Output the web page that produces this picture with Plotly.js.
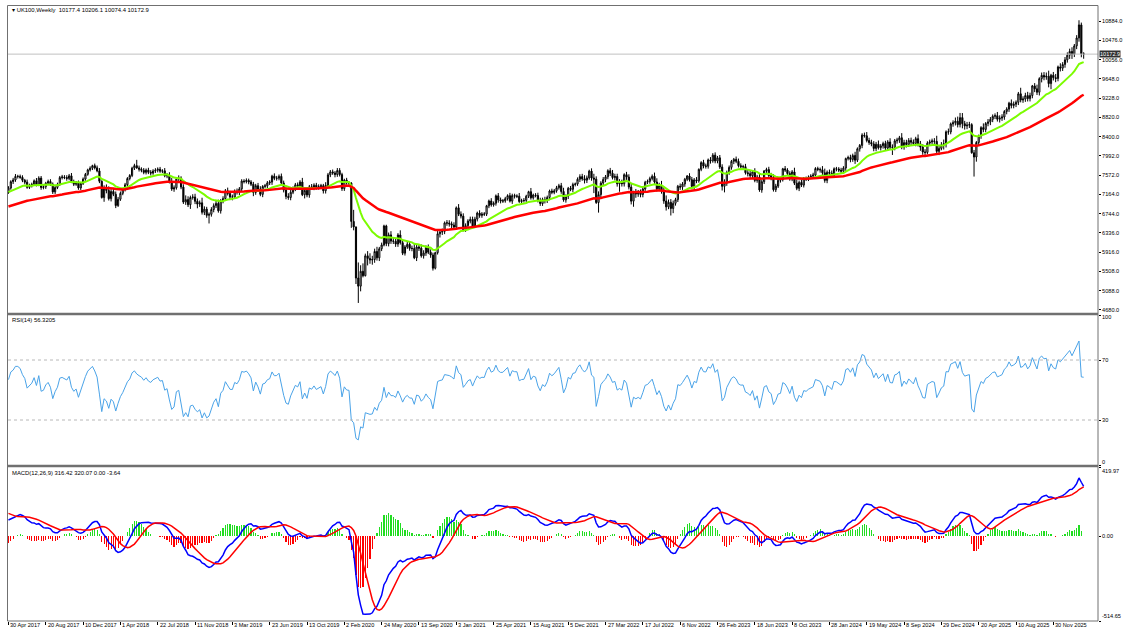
<!DOCTYPE html>
<html><head><meta charset="utf-8">
<script src="https://cdn.plot.ly/plotly-3.0.1.min.js"></script>
<style>html,body{margin:0;padding:0;background:#fff}#chart{width:1124px;height:628px}</style>
</head><body><div id="chart"></div>
<script>
// ---------- DATA ----------
const firstWeek = "2017-04-30";
// weekly closes before the visible window (2015 - Apr 2017, used only to warm up the indicators)
const warmCloses = [6548,6501,6585,6832,6749,6853,6873,6915,6946,6940,6761,7022,6855,6833,6890,7090,6994,7070,6986,7047,6960,7032,6984,6805,6785,6710,6807,6585,6673,6775,6789,6696,6719,6550,6187,6248,6043,6117,6105,6109,6130,6374,6378,6444,6361,6353,6118,6334,6375,6238,5952,6052,
5912,5804,5900,6083,5848,5707,5950,6097,6130,6139,6189,6106,6146,6204,6343,6310,6241,6125,6138,6156,6270,6209,6115,6021,6138,6577,6590,6669,6730,6724,6793,6916,6859,6838,6894,6777,6710,6910,6899,7044,7013,7020,6996,6693,6730,6775,6840,6730,6954,7011,7068,7143,
7210,7337,7198,7184,7188,7258,7299,7243,7374,7343,7425,7336,7323,7349,7327,7115,7204];
// visible weekly closes, 30 Apr 2017 onwards
const closes = [
7297,7435,7471,7548,7547,7527,7464,7424,7313,7350,
7378,7453,7368,7511,7310,7324,7401,7438,7378,7215,
7310,7373,7522,7535,7523,7505,7560,7433,7380,7409,
7300,7394,7490,7592,7688,7724,7778,7731,7666,7443,
7093,7295,7244,7070,7224,7164,6922,7057,7184,7265,
7368,7502,7567,7725,7779,7730,7702,7681,7634,7683,
7637,7618,7662,7679,7701,7659,7667,7559,7577,7432,
7277,7304,7490,7510,7318,6996,7050,6940,7094,7105,
7013,6953,6980,6778,6845,6711,6734,6837,6918,6968,
6809,7020,7071,7237,7178,7107,7104,7228,7208,7279,
7447,7437,7460,7428,7380,7203,7348,7277,7162,7331,
7346,7408,7426,7553,7506,7509,7549,7407,7254,7117,
7095,7207,7282,7367,7345,7426,7155,7247,7150,7324,
7302,7359,7303,7327,7347,7240,7353,7582,7645,7622,
7588,7675,7586,7286,7467,7409,7404,6581,6463,5366,
5191,5510,5416,5843,5787,5752,5763,5936,5800,5994,
6076,6484,6105,6292,6159,6157,6095,6290,6124,5898,
6032,6090,6002,6001,5800,6032,6007,5843,5902,6017,
5920,5860,5577,5910,6316,6351,6368,6550,6547,6529,
6502,6461,6873,6736,6695,6407,6489,6589,6624,6483,
6631,6761,6709,6741,6737,6916,7020,6938,6970,7130,
7044,7018,7023,7069,7134,7017,7136,7123,7122,7008,
7028,7032,7123,7219,7088,7148,7138,7029,6964,7051,
7027,7096,7234,7205,7238,7304,7348,7224,7044,7122,
7292,7270,7373,7385,7486,7543,7494,7466,7516,7661,
7514,7489,6987,7156,7405,7483,7538,7670,7616,7522,
7545,7388,7418,7390,7585,7533,7318,7016,7208,7169,
7196,7159,7276,7423,7440,7501,7550,7427,7281,7351,
7237,7019,6894,6991,6858,6970,7048,7335,7318,7385,
7486,7556,7476,7333,7473,7452,7699,7844,7771,7765,
7902,7882,8004,7879,7947,7748,7335,7405,7632,7742,
7871,7914,7871,7778,7754,7757,7627,7607,7562,7643,
7462,7532,7257,7434,7664,7694,7564,7525,7262,7338,
7465,7478,7711,7684,7608,7495,7644,7402,7292,7418,
7360,7504,7488,7529,7554,7576,7716,7698,7689,7625,
7462,7635,7615,7573,7712,7706,7682,7660,7727,7931,
7953,7911,7996,7896,8140,8213,8434,8420,8318,8275,
8245,8147,8238,8164,8204,8253,8155,8286,8175,8168,
8311,8327,8377,8181,8274,8229,8320,8281,8254,8358,
8249,8177,8072,8063,8262,8287,8309,8300,8085,8149,
8224,8249,8505,8502,8674,8701,8732,8659,8810,8680,
8632,8647,8659,8055,7964,8276,8415,8596,8555,8684,
8718,8772,8838,8851,8775,8799,8823,8941,8992,9120,
9069,9096,9139,9321,9187,9208,9283,9217,9285,9491,
9427,9355,9646,9717,9682,9698,9540,9720,9667,9650,
9897,9871,9951,10050,10150,10230,10170,10350,10520,10800,
10180,10172.9];
// upper / lower shadow length of each weekly candle (price points)
const wickUp = [
40,30,45,50,35,40,45,30,55,40, 35,30,60,40,45,35,30,40,50,40,
30,40,35,45,40,50,40,60,45,40, 50,30,35,30,25,40,20,45,50,60,
20,60,80,90,50,70,60,50,40,35, 40,30,30,30,40,124,50,40,45,35,
50,45,40,45,40,50,35,60,40,60, 80,50,40,60,40,60,90,70,40,60,
70,60,50,110,60,50,40,50,50,60, 80,40,50,40,70,60,50,40,60,40,
40,40,45,40,40,50,40,60,60,30, 40,40,40,30,60,50,40,60,50,60,
70,50,50,40,50,40,90,50,70,40, 60,40,50,50,40,40,70,40,40,50,
40,52,50,40,30,50,30,20,249,7, 334,130,170,47,100,110,80,60,100,40,
50,26,26,50,80,70,60,40,100,60, 40,60,70,60,100,60,60,80,60,50,
70,60,50,20,84,60,60,30,60,60, 50,60,30,80,60,60,50,40,60,60,
50,30,60,40,40,20,30,60,40,30, 60,50,40,40,30,60,40,40,40,70,
40,50,30,20,80,30,40,60,60,40, 60,40,30,50,40,40,40,60,80,40,
30,50,40,30,40,50,60,80,50,30, 60,90,60,70,40,50,40,30,60,70,
60,60,70,60,30,60,60,90,30,70, 60,70,50,30,40,40,40,80,80,60,
100,80,120,60,70,60,40,30,60,40, 30,20,60,60,40,60,20,30,60,50,
30,60,43,60,40,60,60,80,40,40, 30,30,60,60,50,40,60,60,60,40,
80,50,90,40,20,40,60,60,70,50, 40,50,20,60,40,50,40,90,80,40,
60,30,40,40,40,50,30,40,40,80, 90,40,60,60,30,40,40,50,40,20,
40,60,40,80,30,30,40,54,80,60, 60,60,50,80,40,40,60,40,80,60,
40,50,40,100,60,60,50,60,60,40, 90,60,60,60,40,50,50,60,120,60,
60,90,30,70,30,50,80,100,100,98, 60,70,60,31,60,30,30,30,90,30,
60,50,40,50,80,60,60,30,40,30, 80,60,40,40,130,60,60,80,60,20,
60,90,30,60,70,80,120,30,70,80, 30,80,50,60,60,60,90,40,60,100,
50,33];
const wickDown = [
30,35,50,40,45,30,40,45,30,35, 40,30,35,30,50,40,45,30,35,45,
45,35,30,40,35,50,40,30,40,35, 40,45,30,35,30,35,40,35,30,40,
20,90,60,40,60,40,55,30,35,40, 40,35,40,35,40,20,50,45,40,45,
40,50,35,40,45,35,40,30,50,35, 40,60,40,50,45,40,60,50,90,45,
60,90,60,50,60,51,174,50,60,50, 40,60,50,50,40,60,70,40,50,60,
50,40,40,50,40,80,50,50,40,60, 40,50,45,60,40,50,45,30,50,60,
50,60,40,50,60,40,30,80,50,60, 40,50,40,40,50,60,60,40,50,40,
60,50,40,50,50,40,40,138,73,129, 360,111,36,16,150,80,100,70,60,70,
50,30,55,60,60,60,60,60,40,40, 50,40,50,60,30,70,60,40,60,60,
40,60,51,27,40,80,60,60,60,60, 100,50,60,40,50,40,50,60,50,40,
40,50,50,50,40,40,50,40,40,50, 60,50,40,40,40,30,60,50,40,30,
50,40,40,40,40,40,40,40,50,50, 60,50,60,40,40,40,40,50,40,60,
60,40,60,40,40,60,40,70,60,40, 60,300,30,217,60,50,60,50,60,40,
60,60,170,60,60,60,50,70,120,80, 60,60,60,40,40,50,40,40,60,50,
60,60,80,50,150,100,50,50,60,60, 60,40,40,60,60,50,40,40,50,50,
50,60,40,50,50,40,90,130,60,50, 50,60,40,40,50,60,40,60,50,60,
40,50,40,60,50,40,50,60,40,50, 40,50,40,40,40,40,50,40,40,60,
40,50,40,40,40,50,60,40,60,50, 50,60,50,60,60,50,40,50,40,60,
40,60,50,80,40,60,60,40,40,50, 50,60,60,40,60,60,40,60,60,160,
60,60,60,50,60,60,50,60,50,60, 60,80,60,60,40,60,50,60,40,80,
40,100,80,60,50,60,60,60,60,100, 80,70,60,20,420,100,60,60,60,60,
60,70,60,60,50,70,60,60,60,60, 60,60,60,60,50,60,60,60,60,60,
70,60,70,80,70,60,80,120,60,80, 60,70,60,70,60,80,100,60,70,80,
75,99];
const xTickLabels = ["30 Apr 2017","20 Aug 2017","10 Dec 2017","1 Apr 2018","22 Jul 2018","11 Nov 2018","3 Mar 2019","23 Jun 2019","13 Oct 2019","2 Feb 2020","24 May 2020","13 Sep 2020","3 Jan 2021","25 Apr 2021","15 Aug 2021","5 Dec 2021","27 Mar 2022","17 Jul 2022","6 Nov 2022","26 Feb 2023","18 Jun 2023","8 Oct 2023","28 Jan 2024","19 May 2024","8 Sep 2024","29 Dec 2024","20 Apr 2025","10 Aug 2025","30 Nov 2025"];
const priceTicks = [4680,5088,5508,5916,6336,6744,7164,7572,7992,8400,8820,9228,9648,10056,10476,10884];
const rsiTicks = [0,30,70,100];
const rsiLevels = [30,70];
const macdTicks = [-514.65,0,419.97];
const maPeriods = [20,65];
const headerText = "\u25BE UK100,Weekly  10177.4 10206.1 10074.4 10172.9";
const rsiText = "RSI(14) 56.3205";
const macdText = "MACD(12,26,9) 316.42 320.07 0.00 -3.64";

// ---------- DERIVED ----------
const WEEK = 7*86400000;
const t0 = Date.parse(firstWeek);
const iso = t => new Date(t).toISOString().slice(0,16).replace("T"," ");
const dates = closes.map((_,i)=>iso(t0+i*WEEK));
const opens = closes.map((c,i)=> i===0 ? warmCloses[warmCloses.length-1] : closes[i-1]);
const highs = closes.map((c,i)=> Math.max(opens[i],c)+wickUp[i]);
const lows  = closes.map((c,i)=> Math.min(opens[i],c)-wickDown[i]);
const MON = {Jan:"01",Feb:"02",Mar:"03",Apr:"04",May:"05",Jun:"06",Jul:"07",Aug:"08",Sep:"09",Oct:"10",Nov:"11",Dec:"12"};
const tickDates = xTickLabels.map(s=>{const p=s.split(" ");return p[2]+"-"+MON[p[1]]+"-"+p[0].padStart(2,"0");});

const all = warmCloses.concat(closes);
const off = warmCloses.length;
function ema(a,p){const k=2/(p+1);const o=[];let e=a[0];for(let i=0;i<a.length;i++){e=i===0?a[0]:a[i]*k+e*(1-k);o.push(e);}return o;}
function sma(a,p){const o=[];for(let i=0;i<a.length;i++){if(i<p-1){o.push(a[i]);continue;}let s=0;for(let j=i-p+1;j<=i;j++)s+=a[j];o.push(s/p);}return o;}
function rsi(a,p){const o=new Array(a.length).fill(50);let g=0,l=0;for(let i=1;i<=p;i++){const d=a[i]-a[i-1];if(d>0)g+=d;else l-=d;}g/=p;l/=p;o[p]=100-100/(1+g/l);
 for(let i=p+1;i<a.length;i++){const d=a[i]-a[i-1];g=(g*(p-1)+Math.max(d,0))/p;l=(l*(p-1)+Math.max(-d,0))/p;o[i]=l===0?100:100-100/(1+g/l);}return o;}
const maFast = ema(all,maPeriods[0]).slice(off);
const maSlow = ema(all,maPeriods[1]).slice(off);
const rsiV = rsi(all,14).slice(off);
const e12 = ema(all,12), e26 = ema(all,26);
const macdAll = e12.map((v,i)=>v-e26[i]);
const sigAll = sma(macdAll,9);
const macd = macdAll.slice(off), sig = sigAll.slice(off);
const hist = macd.map((v,i)=>v-sig[i]);

// ---------- LAYOUT (pixels) ----------
const W=1124,H=628,L=8,R=26,T=6,B=7;
const fx = px => (px-L)/(W-L-R);
const fy = py => (H-B-py)/(H-T-B);
const xr = [iso(t0-0.2*WEEK), iso(t0+467.15*WEEK)];
const FONT = "Liberation Sans, Arial, sans-serif";
const tf = {family:FONT,size:5.9,color:"#000"};
const af = {family:FONT,size:5.6,color:"#000"};

const traces = [
 {type:"candlestick",x:dates,open:opens,high:highs,low:lows,close:closes,xaxis:"x",yaxis:"y",
  increasing:{line:{color:"#000",width:1},fillcolor:"#fff"},
  decreasing:{line:{color:"#000",width:1},fillcolor:"#000"},whiskerwidth:0,hoverinfo:"skip"},
 {type:"scatter",mode:"lines",x:dates,y:maFast,xaxis:"x",yaxis:"y",line:{color:"#7CFC00",width:2},hoverinfo:"skip"},
 {type:"scatter",mode:"lines",x:dates,y:maSlow,xaxis:"x",yaxis:"y",line:{color:"#FF0000",width:2.5},hoverinfo:"skip"},
 {type:"scatter",mode:"lines",x:dates,y:rsiV,xaxis:"x",yaxis:"y2",line:{color:"#4AA3E8",width:1},hoverinfo:"skip"},
 {type:"bar",x:dates,y:hist,xaxis:"x",yaxis:"y3",width:WEEK*0.5,marker:{color:hist.map(v=>v>=0?"#22DD22":"#FF0000"),line:{width:0}},hoverinfo:"skip"},
 {type:"scatter",mode:"lines",x:dates,y:macd,xaxis:"x",yaxis:"y3",line:{color:"#0000FF",width:1.5},hoverinfo:"skip"},
 {type:"scatter",mode:"lines",x:dates,y:sig,xaxis:"x",yaxis:"y3",line:{color:"#FF0000",width:1.5},hoverinfo:"skip"}
];

const yCommon = {side:"right",showgrid:false,zeroline:false,ticks:"outside",ticklen:2,tickcolor:"#000",tickfont:af,fixedrange:true,showline:false};
const edgeLabel = (text,yref,yv,shift)=>({xref:"paper",yref:yref,x:1,y:yv,xanchor:"left",yanchor:"middle",xshift:3,yshift:shift,text:text,showarrow:false,font:af,borderpad:0});
const layout = {
 width:W,height:H,margin:{l:L,r:R,t:T,b:B},paper_bgcolor:"#fff",plot_bgcolor:"#fff",showlegend:false,bargap:0,
 xaxis:{type:"date",range:xr,anchor:"y3",domain:[0,1],tickvals:tickDates,showticklabels:false,ticks:"outside",ticklen:3,tickcolor:"#000",
   showgrid:false,zeroline:false,showline:false,rangeslider:{visible:false},fixedrange:true},
 yaxis:Object.assign({},yCommon,{domain:[fy(313),fy(6)],range:[4615,11206],tickvals:priceTicks,ticktext:priceTicks.map(v=>v.toFixed(1))}),
 yaxis2:Object.assign({},yCommon,{domain:[fy(465),fy(315)],range:[0,100],tickvals:rsiTicks,ticktext:rsiTicks.map(v=>(v===0||v===100)?"":String(v))}),
 yaxis3:Object.assign({},yCommon,{domain:[fy(621),fy(467)],range:[macdTicks[0],macdTicks[2]],tickvals:macdTicks,ticktext:macdTicks.map(v=>v===0?"0.00":"")}),
 shapes:[
  {type:"line",xref:"paper",yref:"y",x0:0,x1:1,y0:closes[closes.length-1],y1:closes[closes.length-1],line:{color:"#C0C0C0",width:1}},
  ...rsiLevels.map(v=>({type:"line",xref:"paper",yref:"y2",x0:0,x1:1,y0:v,y1:v,line:{color:"#B8B8B8",width:1,dash:"dot"}})),
  {type:"rect",xref:"paper",yref:"paper",x0:fx(7.5),x1:fx(1098),y0:fy(621),y1:fy(5.5),line:{color:"#707070",width:1}},
  {type:"line",xref:"paper",yref:"paper",x0:fx(7.5),x1:fx(1098),y0:fy(314),y1:fy(314),line:{color:"#707070",width:2.5}},
  {type:"line",xref:"paper",yref:"paper",x0:fx(7.5),x1:fx(1098),y0:fy(466),y1:fy(466),line:{color:"#707070",width:2.5}}
 ],
 annotations:[
  {xref:"paper",yref:"paper",x:fx(10),y:fy(5),xanchor:"left",yanchor:"top",text:headerText,showarrow:false,font:tf},
  {xref:"paper",yref:"paper",x:fx(10),y:fy(315.5),xanchor:"left",yanchor:"top",text:rsiText,showarrow:false,font:tf},
  {xref:"paper",yref:"paper",x:fx(10),y:fy(467.5),xanchor:"left",yanchor:"top",text:macdText,showarrow:false,font:tf},
  {xref:"paper",yref:"y",x:1,y:closes[closes.length-1],xanchor:"left",yanchor:"middle",xshift:1,text:String(closes[closes.length-1]),showarrow:false,
   font:{family:FONT,size:5.6,color:"#fff"},bgcolor:"#303030",borderpad:0},
  edgeLabel(String(rsiTicks[3]),"y2",rsiTicks[3],-2),
  edgeLabel(String(rsiTicks[0]),"y2",rsiTicks[0],3),
  edgeLabel(macdTicks[2].toFixed(2),"y3",macdTicks[2],-4),
  edgeLabel(macdTicks[0].toFixed(2),"y3",macdTicks[0],5),
  ...xTickLabels.map((s,i)=>({xref:"x",yref:"paper",x:tickDates[i],y:fy(624.5),xanchor:"left",yanchor:"middle",xshift:1,text:s,showarrow:false,font:af,borderpad:0}))
 ]
};
Plotly.newPlot("chart",traces,layout,{staticPlot:true,displayModeBar:false});
</script></body></html>
